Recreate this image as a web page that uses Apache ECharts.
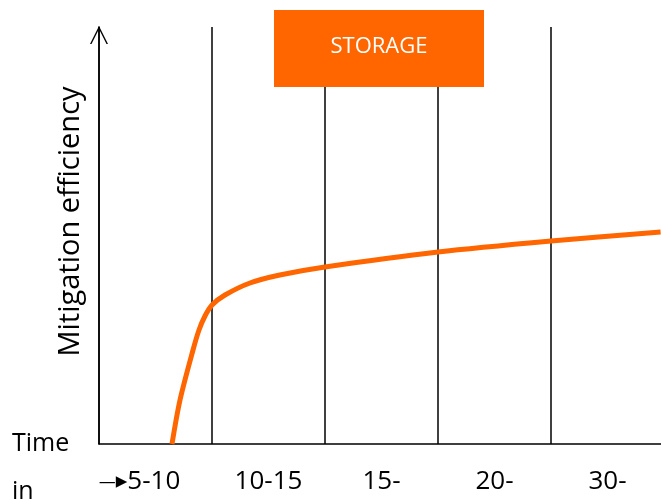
<!DOCTYPE html>
<html>
<head>
<meta charset="utf-8">
<script src="https://cdn.jsdelivr.net/npm/echarts@6/dist/echarts.min.js"></script>
<style>html,body{margin:0;padding:0;background:#fff}#c{width:661px;height:499px}</style>
</head>
<body>
<div id="c"></div>
<script>
var categories = ['5-10', '10-15', '15-', '20-', '30-'];
var curveX = [0.646, 0.717, 0.832, 0.885, 0.938, 1.0, 1.115, 1.336, 1.60, 2.0, 3.0, 4.0, 4.97];
var curveY = [0, 10.55, 22.54, 27.34, 30.70, 33.33, 35.73, 38.61, 40.53, 42.45, 46.04, 48.68, 50.84];
var xName = 'Time\nin';
var yName = 'Mitigation efficiency';
var boxLabel = 'STORAGE';

var FONT = 'Open Sans';
var ORANGE = '#FF6600';

var chart = echarts.init(document.getElementById('c'), null, {renderer: 'canvas'});
chart.setOption({
  animation: false,
  textStyle: {fontFamily: FONT},
  grid: {left: 99, top: 27, width: 565, bottom: 55, containLabel: false, outerBoundsMode: 'none'},
  xAxis: [{
    type: 'category',
    data: categories,
    boundaryGap: true,
    axisLine: {lineStyle: {color: '#000', width: 1.5}},
    axisTick: {show: false},
    splitLine: {show: true, interval: 0, lineStyle: {color: '#000', width: 1.5}},
    axisLabel: {
      interval: 0, margin: 25, color: '#000', fontSize: 26, fontFamily: FONT,
      formatter: function (v, i) { return i === 0 ? '{s|\u2014}{h|\u25B6}{a|' + v + '}' : v; },
      rich: {
        s: {fontSize: 17, fontFamily: 'DejaVu Sans', color: '#000', padding: [2, 0, 0, 0]},
        h: {fontSize: 15, fontFamily: 'DejaVu Sans', color: '#000'},
        a: {fontSize: 26, fontFamily: FONT, color: '#000', padding: [0, 32, 0, 0]}
      }
    },
    name: '\n' + xName,
    nameLocation: 'start',
    nameGap: 87,
    nameTextStyle: {color: '#000', fontSize: 25, fontFamily: FONT, align: 'left', verticalAlign: 'middle', lineHeight: 48}
  }, {
    type: 'value', min: 0, max: 5, show: false
  }],
  yAxis: {
    type: 'value', min: 0, max: 100,
    axisLine: {show: true, lineStyle: {color: '#000', width: 1.5},
      symbol: ['none', 'path://M0,18 L9,0 L18,18 L16.5,18 L9,3 L1.5,18 Z'], symbolSize: [18, 18],
      symbolOffset: [0, -8]},
    axisTick: {show: false}, axisLabel: {show: false}, splitLine: {show: false},
    name: yName, nameLocation: 'middle', nameGap: 14,
    nameTextStyle: {color: '#000', fontSize: 29, fontFamily: FONT, padding: [0, 0, 0, 28]}
  },
  graphic: [{
    type: 'group', left: 274, top: 10, z: 100,
    children: [{
      type: 'rect', z: 100,
      shape: {x: 0, y: 0, width: 210, height: 77},
      style: {fill: ORANGE}
    }, {
      type: 'text', z: 101, x: 105, y: 37,
      style: {text: boxLabel, fill: '#fff', fontSize: 22, fontFamily: FONT, align: 'center', verticalAlign: 'middle'}
    }]
  }],
  series: [{
    type: 'line', xAxisIndex: 1, smooth: 0.3, showSymbol: false,
    lineStyle: {color: ORANGE, width: 5}, itemStyle: {color: ORANGE},
    data: curveX.map(function (x, i) { return [x, curveY[i]]; })
  }]
});
</script>
</body>
</html>
